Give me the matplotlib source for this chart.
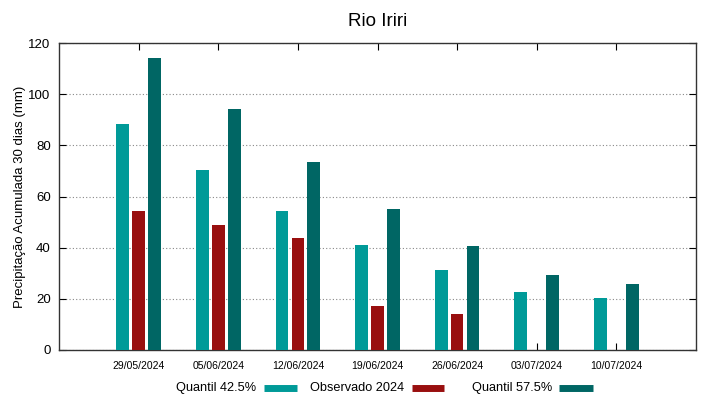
import matplotlib
matplotlib.use('Agg')
import matplotlib.pyplot as plt
from matplotlib.lines import Line2D
import numpy as np

plt.rcParams['font.family'] = ['Liberation Sans', 'DejaVu Sans']

# Dados
datas = ['29/05/2024', '05/06/2024', '12/06/2024', '19/06/2024',
         '26/06/2024', '03/07/2024', '10/07/2024']
quantil_425 = [88.3, 70.4, 54.5, 41.0, 31.2, 22.7, 20.2]
observado = [54.5, 48.9, 43.8, 17.3, 14.0, np.nan, np.nan]
quantil_575 = [114.3, 94.3, 73.5, 55.0, 40.7, 29.2, 25.8]

cor_q1 = '#009a98'
cor_obs = '#990f0f'
cor_q2 = '#006664'

W, H = 719, 399
fig = plt.figure(figsize=(W/100, H/100), dpi=100)
ax = fig.add_axes([59/W, 49/H, 637/W, 307/H])

x = np.arange(len(datas))
w = 0.16
off = 0.2
ax.bar(x - off, quantil_425, width=w, color=cor_q1, zorder=3)
ax.bar(x, observado, width=w, color=cor_obs, zorder=3)
ax.bar(x + off, quantil_575, width=w, color=cor_q2, zorder=3)

ax.set_xlim(-1, len(datas))
ax.set_ylim(0, 120)
ax.set_yticks(np.arange(0, 121, 20))
ax.set_xticks(x)
ax.set_xticklabels(datas, fontsize=7.5)
ax.tick_params(axis='y', labelsize=9.5, direction='in', length=5,
               right=True, pad=6)
ax.tick_params(axis='x', direction='in', length=5, top=True, pad=8)
ax.yaxis.grid(True, linestyle=(0, (1, 2)), color='#888888', linewidth=0.8)
for s in ax.spines.values():
    s.set_color('#333333')
    s.set_linewidth(1.0)

ax.set_title('Rio Iriri', fontsize=13.5, pad=12)
ax.set_ylabel('Precipitação Acumulada 30 dias (mm)', fontsize=9.5, labelpad=2)

# legenda no estilo gnuplot: texto e depois a amostra
labels = ['Quantil 42.5%', 'Observado 2024', 'Quantil 57.5%']
cores = [cor_q1, cor_obs, cor_q2]
fim_texto = [256, 404, 552]
amostra = [(264, 297), (412, 444), (559, 593)]
yl = 1 - 388/H
for lab, c, xt, (x0, x1) in zip(labels, cores, fim_texto, amostra):
    fig.text(xt/W, yl, lab, ha='right', va='center', fontsize=9.2)
    fig.add_artist(Line2D([x0/W, x1/W], [yl, yl], color=c, linewidth=5,
                          solid_capstyle='butt', transform=fig.transFigure))

fig.savefig('out.png', dpi=100)
